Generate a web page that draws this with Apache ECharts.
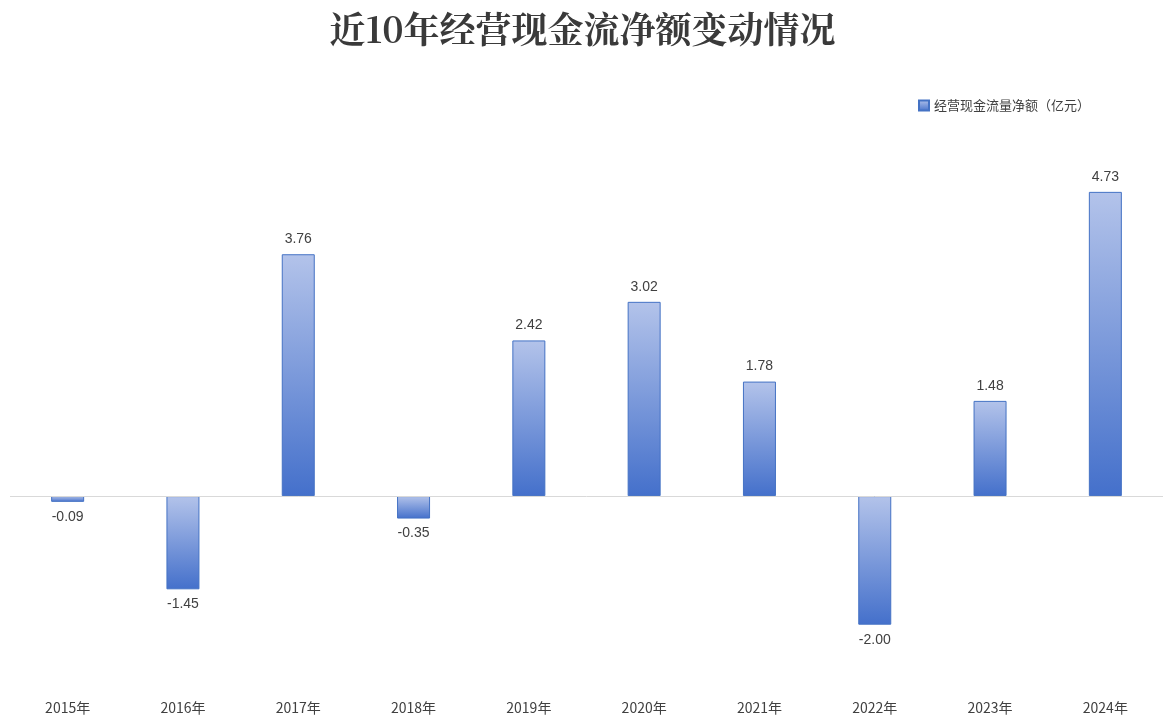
<!DOCTYPE html>
<html><head><meta charset="utf-8">
<script src="https://cdn.jsdelivr.net/npm/echarts@6/dist/echarts.min.js"></script>
<style>html,body{margin:0;padding:0;background:#fff}#c{width:1165px;height:720px}</style>
</head><body><div id="c"></div>
<script>
const categories = ['2015年','2016年','2017年','2018年','2019年','2020年','2021年','2022年','2023年','2024年'];
const values = [-0.09,-1.45,3.76,-0.35,2.42,3.02,1.78,-2.00,1.48,4.73];
const seriesName = '经营现金流量净额（亿元）';
const grad = new echarts.graphic.LinearGradient(0,0,0,1,[{offset:0,color:'#b3c3ea'},{offset:1,color:'#4470cb'}]);
const chart = echarts.init(document.getElementById('c'));
chart.setOption({
  animation:false,
  title:{text:'近10年经营现金流净额变动情况',left:'center',top:6,textStyle:{fontFamily:'"Noto Serif CJK SC","Noto Sans CJK SC",serif',fontSize:36,fontWeight:'bold',color:'#3a3a3a'}},
  legend:{data:[seriesName],right:70,top:94,itemWidth:10,itemHeight:10,icon:'rect',textStyle:{fontSize:13,color:'#404040',fontFamily:'"Noto Sans CJK SC"'}},
  grid:{left:10,right:2,top:174.5,bottom:31},
  xAxis:{type:'category',data:categories,axisLine:{show:false,onZero:false},axisTick:{show:false},
    axisLabel:{margin:12,fontSize:14,color:'#404040',fontFamily:'"Noto Sans CJK SC"'}},
  yAxis:{type:'value',min:-3,max:5,show:false,splitLine:{show:false}},
  series:[{name:seriesName,type:'bar',data:values,barWidth:33,
    itemStyle:{color:grad,borderColor:'#4472c4',borderWidth:1},
    label:{show:true,position:'outside',distance:8,fontSize:14,color:'#404040',formatter:p=>p.value.toFixed(2)},
    markLine:{silent:true,symbol:'none',label:{show:false},lineStyle:{color:'#d9d9d9',type:'solid',width:1},data:[{yAxis:0}]}
  }]
});
</script></body></html>
